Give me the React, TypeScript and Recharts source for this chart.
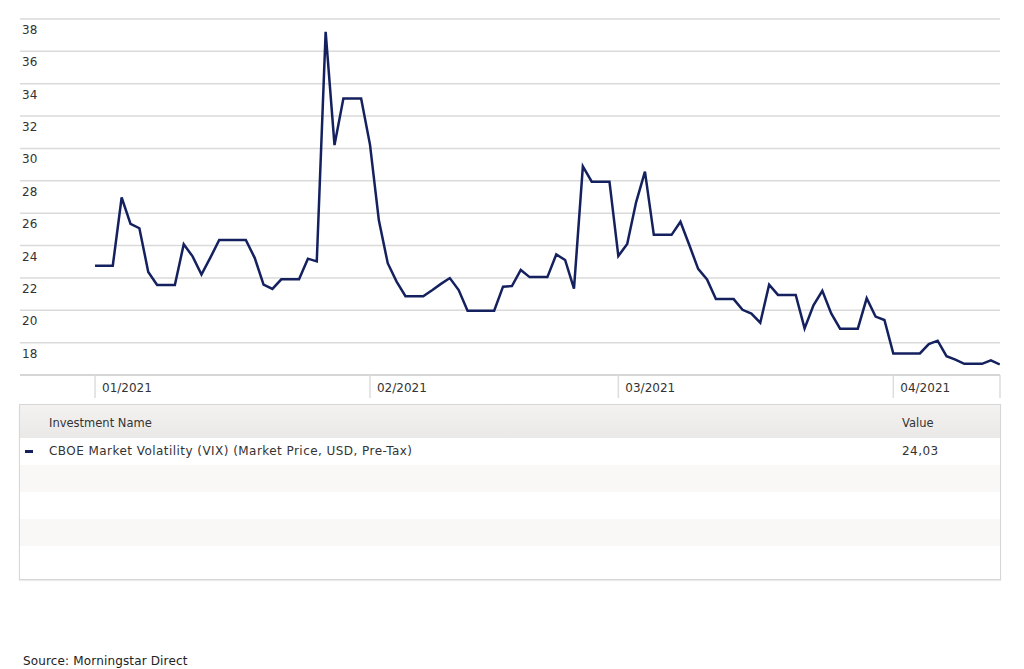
import React from "react";
import { LineChart, Line, XAxis, YAxis, CartesianGrid } from "recharts";

// daily VIX closes from 01/01/2021, non-trading days carry the last close
const janValues = [
  22.75, 22.75, 22.75, 26.97, 25.34, 25.07, 22.37, 21.56, 21.56, 21.56,
  24.08, 23.33, 22.21, 23.25, 24.34, 24.34, 24.34, 24.34, 23.24, 21.58,
  21.32, 21.91, 21.91, 21.91, 23.19, 23.02, 37.21, 30.21, 33.09, 33.09,
  33.09,
];
const febValues = [
  30.24, 25.56, 22.91, 21.77, 20.87, 20.87, 20.87, 21.24, 21.63, 21.99,
  21.25, 19.97, 19.97, 19.97, 19.97, 21.46, 21.5, 22.49, 22.05, 22.05,
  22.05, 23.45, 23.11, 21.34, 28.89, 27.95, 27.95, 27.95,
];
const marValues = [
  23.35, 24.1, 26.67, 28.57, 24.66, 24.66, 24.66, 25.47, 24.03, 22.56,
  21.91, 20.69, 20.69, 20.69, 20.03, 19.79, 19.23, 21.58, 20.95, 20.95,
  20.95, 18.88, 20.3, 21.2, 19.81, 18.86, 18.86, 18.86, 20.74, 19.61,
  19.4,
];
const aprValues = [
  17.33, 17.33, 17.33, 17.33, 17.91, 18.12, 17.16, 16.95, 16.69, 16.69,
  16.69, 16.91, 16.65,
];

const monthTicks = [0, 31, 59, 90, 102.03];
const monthLabels = ["01/2021", "02/2021", "03/2021", "04/2021", ""];
const yTicks = [18, 20, 22, 24, 26, 28, 30, 32, 34, 36, 38];

const seriesName = "CBOE Market Volatility (VIX) (Market Price, USD, Pre-Tax)";
const seriesValue = "24,03";

const data = [...janValues, ...febValues, ...marValues, ...aprValues].map(
  (v, i) => ({ day: i, vix: v })
);

const NAVY = "#14215e";
const TEXT = "#333333";
const FONT = "'DejaVu Sans', Verdana, sans-serif";

function MonthTick(props: any) {
  const { x, index } = props;
  const label = monthLabels[index] ?? "";
  return (
    <g>
      <line x1={x} y1={375} x2={x} y2={398} stroke="#dddddd" strokeWidth={1.5} />
      <text x={x + 7} y={392} fill={TEXT} fontSize={12} fontFamily={FONT}>
        {label}
      </text>
    </g>
  );
}

function ValueTick(props: any) {
  const { y, payload } = props;
  return (
    <text x={22} y={y + 15} fill={TEXT} fontSize={12} fontFamily={FONT}>
      {payload.value}
    </text>
  );
}

const rowBg = ["#ffffff", "#f9f8f6", "#ffffff", "#f9f8f6", "#ffffff"];

export default function App() {
  return (
    <div
      style={{
        position: "absolute",
        left: 0,
        top: 0,
        width: 1024,
        height: 669,
        background: "#fff",
        fontFamily: FONT,
        color: TEXT,
      }}
    >
      <LineChart
        width={1024}
        height={400}
        data={data}
        margin={{ top: 19, right: 24, left: 0, bottom: 0 }}
      >
        <CartesianGrid vertical={false} stroke="#dadada" strokeWidth={1.5} />
        <XAxis
          dataKey="day"
          type="number"
          domain={[-8.46, 102.03]}
          allowDataOverflow
          ticks={monthTicks}
          interval={0}
          height={25}
          tickLine={false}
          tickSize={0}
          axisLine={{ stroke: "#d6d6d6", strokeWidth: 2 }}
          tick={<MonthTick />}
        />
        <YAxis
          type="number"
          domain={[16, 38]}
          allowDataOverflow
          ticks={yTicks}
          interval={0}
          width={20}
          axisLine={false}
          tickLine={false}
          tickSize={0}
          tick={<ValueTick />}
        />
        <Line
          type="linear"
          dataKey="vix"
          stroke={NAVY}
          strokeWidth={2.5}
          dot={false}
          isAnimationActive={false}
        />
      </LineChart>

      {/* table under the chart */}
      <div
        style={{
          position: "absolute",
          left: 19,
          top: 404,
          width: 980,
          height: 174,
          border: "1px solid #d6d6d6",
          boxShadow: "0 1px 1px rgba(0,0,0,0.08)",
          fontSize: 12,
          overflow: "hidden",
        }}
      >
        <div
          style={{
            height: 33,
            background: "linear-gradient(#f3f2f0, #ebe9e7)",
            position: "relative",
            fontSize: 11.5,
          }}
        >
          <span style={{ position: "absolute", left: 29, top: 11 }}>
            Investment Name
          </span>
          <span style={{ position: "absolute", left: 882, top: 11 }}>Value</span>
        </div>
        {rowBg.map((bg, i) => (
          <div
            key={i}
            style={{
              height: i === 4 ? 34 : 27,
              background: bg,
              position: "relative",
            }}
          >
            {i === 0 && (
              <>
                <span
                  style={{
                    position: "absolute",
                    left: 5,
                    top: 12,
                    width: 8,
                    height: 3,
                    background: NAVY,
                  }}
                />
                <span
                  style={{
                    position: "absolute",
                    left: 29,
                    top: 6,
                    letterSpacing: 0.45,
                  }}
                >
                  {seriesName}
                </span>
                <span
                  style={{
                    position: "absolute",
                    left: 882,
                    top: 6,
                    letterSpacing: 0.45,
                  }}
                >
                  {seriesValue}
                </span>
              </>
            )}
          </div>
        ))}
      </div>

      <div
        style={{
          position: "absolute",
          left: 23,
          top: 654,
          fontSize: 12,
          color: "#222",
          letterSpacing: 0.15,
        }}
      >
        Source: Morningstar Direct
      </div>
    </div>
  );
}
